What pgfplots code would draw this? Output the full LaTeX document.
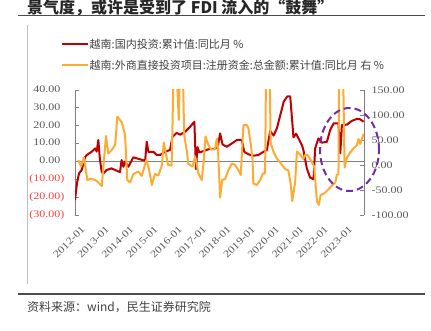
\documentclass[border=0pt]{standalone}
\usepackage{pgfplots}
\pgfplotsset{compat=1.18}
\usepackage{fontspec}
\setmainfont{Liberation Serif}
\newfontfamily\tickfont[FakeStretch=1.2]{Liberation Serif}
\newfontfamily\cjk{Noto Sans CJK SC}
\definecolor{redl}{RGB}{192,0,0}
\definecolor{orl}{RGB}{255,170,50}
\definecolor{tickgray}{RGB}{89,89,89}
\definecolor{negred}{RGB}{255,60,60}
\definecolor{purp}{RGB}{112,48,160}

\pgfplotstableread{
x y
0 -21.6
1 -12
2 -6.7
3.3 -4.8
5 2.5
5.8 3.6
8.2 5.4
9.9 7.3
10.7 5.5
11.5 12
12.3 1
13.2 -6
14 -6.7
15.6 -4.8
18 -3.9
20.6 -5.2
22.2 -6
23 0.8
23.9 -3
24.7 0
26.3 -3
28.8 2.3
32 1.2
34.6 0.4
35.4 11
36.2 5.4
38.7 5.4
40.3 3.6
42 3.6
44.4 5.4
46.9 6.4
48.1 13.8
50.2 16
51.9 15
54.3 16.6
56.8 19.4
58.9 22.2
59.7 -4.3
60.4 8
61.4 5
63.4 5.8
65.8 6.8
68.3 7
70.4 7.8
71.6 15.7
72.8 9.5
74.9 8.2
77.4 10.1
79.9 12
82.3 12
83.5 5.4
85.6 4
88 3.2
90.5 3.6
93 5.4
94.7 6.4
96.3 17
98 14.5
99.6 18.5
101.2 25.5
103 33.5
104.7 36.4
106.2 36.4
107.8 13.5
109.1 15.5
110.3 12.9
112 9
112.7 6.4
114.4 -3.9
116 -9.1
117.7 -10
118.5 7.3
120.1 12.9
121.8 10.5
124.3 11
125.9 17.6
127.6 21.3
130 21.3
130.9 4.5
131.7 20.4
134.2 20.6
136.6 22.7
139.1 23.8
140.7 23.6
142.4 22.2
}\redtab

\pgfplotstableread{
x y
1.6 10
3 -3
4.4 15
6.1 -30
8.2 -27
10.7 -32
13.2 -42
15.3 58
16.4 23
18.1 30
19.8 40
20.9 97
23.1 85
24.7 60
25.8 -30
27.2 -35
28.8 -18
31.3 -13
32.9 -22
35.2 10
36.5 -8
37.9 -40
39.5 -18
41.1 -21
42.8 -2
43.8 45
44.9 22
45.9 0
47.7 -1
48.8 220
49.8 220
51.2 90
52.1 240
52.9 240
53.9 60
55.2 27
55.9 2
58 -3
59.3 17
60.1 0
60.9 -17
62.5 -30
63.4 3
64.4 57
65.8 40
67.2 31
69.1 31
70 53
70.5 37
71.6 -65
72.6 -30
74.1 -28
75.7 -10
77.4 3
79 0
80.6 -10
81.8 -20
83.1 80
84.8 80
85.6 73
86.8 40
87.6 10
88 -37
89.7 -40
91.4 -30
92.7 -17
93.8 -17
94.5 300
95.8 300
96.5 45
97.9 27
99.6 13
101.2 5
103.7 -8
105.3 -11
106.5 -40
107.2 -72
108.6 -35
109.5 27
111.1 21
112.7 12
113.6 20
114.8 20
116.3 10
118 -3
119.4 -73
120.3 -80
121.2 -60
123 -57
124.7 -50
126.8 -41
128.4 -35
129.2 -20
130 -18
130.5 300
131.9 300
133 -5
134.2 15
135.8 25
137.4 33
139.1 40
139.9 52
140.7 42
142.4 62
}\oratab

\begin{document}
\begin{tikzpicture}
\useasboundingbox (0pt,0pt) rectangle (431pt,331pt);
% title (cut at top, as in the reference)
\node[anchor=base west, font=\cjk\bfseries\fontsize{16}{16}\selectfont, text=black!85, inner sep=0] at (27pt,317pt) {景气度，或许是受到了 FDI 流入的“鼓舞”};
\draw[black!70, line width=1.2pt] (18pt,315.5pt) -- (425pt,315.5pt);
\draw[black!25, line width=0.8pt] (27pt,306pt) -- (27pt,47pt);
\draw[black!70, line width=1.2pt] (18pt,37pt) -- (425pt,37pt);
\node[anchor=west, font=\cjk\fontsize{12}{12}\selectfont, text=black!75, inner sep=0] at (27pt,24pt) {资料来源：wind，民生证券研究院};
% legend
\draw[redl, line width=2pt] (62pt,287pt) -- (88pt,287pt);
\node[anchor=west, font=\cjk\fontsize{11}{11}\selectfont, text=black!75, inner sep=0] at (89.5pt,287pt) {越南:国内投资:累计值:同比月 \%};
\draw[orl, line width=2pt] (62pt,266pt) -- (88pt,266pt);
\node[anchor=west, font=\cjk\fontsize{11}{11}\selectfont, text=black!75, inner sep=0] at (89.5pt,266pt) {越南:外商直接投资项目:注册资金:总金额:累计值:同比月 右 \%};

\begin{axis}[
  at={(75pt,116pt)}, anchor=south west,
  scale only axis, width=289pt, height=125pt,
  xmin=0, xmax=142.6, ymin=-30, ymax=40,
  axis y line*=left, axis x line*=bottom,
  x axis line style={draw=none},
  y axis line style={draw=black!50, line width=0.8pt, -},
  tick align=inside, major tick length=4pt,
  ytick={-30,-20,...,40},
  yticklabels={\textcolor{negred}{(30.00)},\textcolor{negred}{(20.00)},\textcolor{negred}{(10.00)},0.00\phantom{)},10.00\phantom{)},20.00\phantom{)},30.00\phantom{)},40.00\phantom{)}},
  ytick style={draw=black!50, line width=0.8pt},
  yticklabel style={font=\tickfont\fontsize{10}{10}\selectfont, text=tickgray, xshift=-7pt},
  xtick={0,12,...,132},
  xticklabels={2012-01,2013-01,2014-01,2015-01,2016-01,2017-01,2018-01,2019-01,2020-01,2021-01,2022-01,2023-01},
  xtick style={draw=none},
  xticklabel style={rotate=45, anchor=north east, font=\tickfont\fontsize{10}{10}\selectfont, text=tickgray, yshift=-8pt},
]
\draw[black!50, line width=0.8pt] (axis cs:0,0) -- (axis cs:142.6,0);
\addplot[redl, line width=2pt, line join=round, no markers] table[x=x,y=y] {\redtab};
\end{axis}

\begin{axis}[
  at={(75pt,116pt)}, anchor=south west,
  scale only axis, width=289pt, height=125pt,
  xmin=0, xmax=142.6, ymin=-100, ymax=150,
  axis y line*=right, axis x line=none,
  y axis line style={draw=black!50, line width=0.8pt, -},
  tick align=inside, major tick length=4pt,
  ytick={-100,-50,...,150},
  yticklabels={-100.00,-50.00,0.00,50.00,100.00,150.00},
  ytick style={draw=black!50, line width=0.8pt},
  yticklabel style={font=\tickfont\fontsize{10}{10}\selectfont, text=tickgray, xshift=4pt},
]
\addplot[orl, line width=2pt, line join=round, no markers] table[x=x,y=y] {\oratab};
\end{axis}

\draw[purp, line width=2pt, dash pattern=on 7pt off 4pt] (349.5pt,181.5pt) ellipse [x radius=29.5pt, y radius=41.5pt];
\end{tikzpicture}
\end{document}
